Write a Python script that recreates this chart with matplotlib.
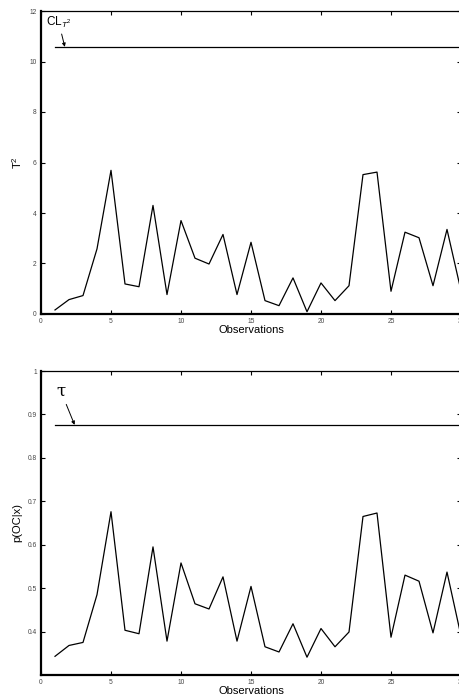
import matplotlib
matplotlib.use('Agg')
import matplotlib.pyplot as plt
import numpy as np

plt.rcParams['font.family'] = ['Liberation Sans', 'DejaVu Sans']
plt.rcParams['mathtext.fontset'] = 'custom'
plt.rcParams['mathtext.rm'] = 'Liberation Sans'
plt.rcParams['mathtext.it'] = 'Liberation Sans:italic'

# observation index
obs = np.arange(1, 31)

# Hotelling T^2 statistic per observation
t2 = [0.16, 0.57, 0.73, 2.58, 5.69, 1.19, 1.08, 4.30, 0.77, 3.70,
      2.21, 1.98, 3.15, 0.77, 2.84, 0.53, 0.33, 1.43, 0.09, 1.23,
      0.53, 1.12, 5.52, 5.62, 0.90, 3.24, 3.02, 1.12, 3.35, 0.92]
cl_t2 = 10.58

# posterior probability of out-of-control
p_oc = [0.343, 0.368, 0.375, 0.485, 0.676, 0.403, 0.395, 0.595, 0.378, 0.558,
        0.464, 0.452, 0.526, 0.378, 0.504, 0.365, 0.353, 0.418, 0.341, 0.407,
        0.365, 0.399, 0.665, 0.673, 0.387, 0.530, 0.516, 0.397, 0.537, 0.390]
tau = 0.876

W, H = 459, 697
fig = plt.figure(figsize=(W / 100, H / 100), dpi=100)

def px_axes(l, t, r, b):
    return fig.add_axes([l / W, 1 - b / H, (r - l) / W, (b - t) / H])

def style(ax):
    ax.tick_params(direction='in', length=3, width=0.8, labelsize=4.8,
                   labelcolor='#444444', top=True, right=True, pad=3)
    for s in ['left', 'bottom']:
        ax.spines[s].set_linewidth(1.6)
    for s in ['top', 'right']:
        ax.spines[s].set_linewidth(0.9)
    ax.set_xlim(0, 30)
    ax.set_xticks([0, 5, 10, 15, 20, 25, 30])
    ax.set_xlabel('Observations', fontsize=8, labelpad=0)

ax1 = px_axes(41, 11, 461, 314)
ax1.plot(obs, t2, color='black', lw=0.9)
ax1.plot([1, 30], [cl_t2, cl_t2], color='black', lw=0.9)
ax1.set_ylim(0, 12)
ax1.set_yticks([0, 2, 4, 6, 8, 10, 12])
style(ax1)
ax1.set_ylabel(r'T$^2$', fontsize=8, labelpad=4)
ax1.annotate(r'CL$_{T^2}$', xy=(1.7, cl_t2), xytext=(0.35, 11.55),
             fontsize=8.5, ha='left', va='center',
             arrowprops=dict(arrowstyle='-|>', color='black', lw=0.7,
                             mutation_scale=5, shrinkA=1, shrinkB=0))

ax2 = px_axes(41, 371, 461, 675)
ax2.plot(obs, p_oc, color='black', lw=0.9)
ax2.plot([1, 30], [tau, tau], color='black', lw=0.9)
ax2.set_ylim(0.3, 1)
ax2.set_yticks([0.4, 0.5, 0.6, 0.7, 0.8, 0.9, 1.0])
ax2.set_yticklabels(['0.4', '0.5', '0.6', '0.7', '0.8', '0.9', '1'])
style(ax2)
ax2.set_ylabel('p(OC|x)', fontsize=8, labelpad=4)
ax2.annotate('τ', xy=(2.4, tau), xytext=(1.4, 0.955),
             fontsize=12, ha='center', va='center', family='DejaVu Serif',
             arrowprops=dict(arrowstyle='-|>', color='black', lw=0.7,
                             mutation_scale=5, shrinkA=2, shrinkB=0))

fig.savefig('out.png', dpi=100)
